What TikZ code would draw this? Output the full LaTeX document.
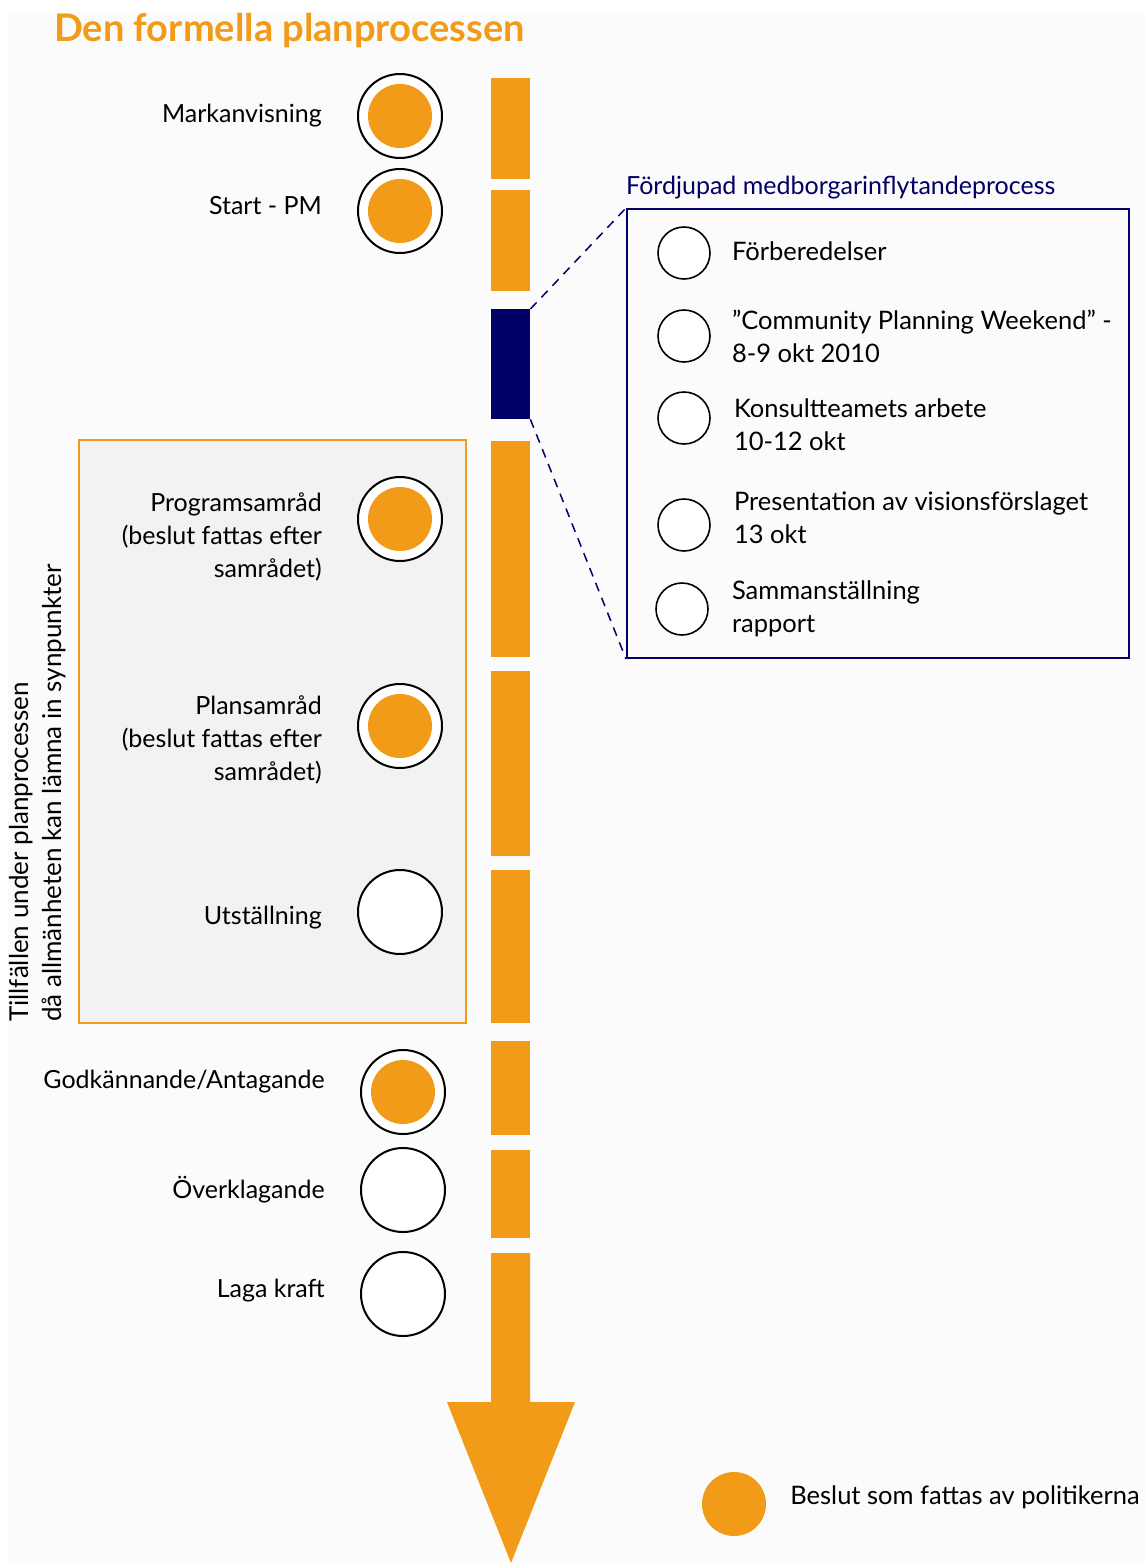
\documentclass[tikz,border=0pt]{standalone}
\usepackage{fontspec}
\setmainfont{Lato}
\usetikzlibrary{positioning}
\definecolor{planorange}{RGB}{242,155,24}
\definecolor{plannavy}{RGB}{0,0,102}
\definecolor{panelgray}{RGB}{242,242,242}
\definecolor{pagegray}{RGB}{251,251,251}

\begin{document}
\begin{tikzpicture}[x=1pt,y=-1pt,
    lbl/.style={anchor=east, align=right, inner sep=0pt, font=\fontsize{25}{33}\selectfont},
    sublbl/.style={align=left, inner sep=0pt, font=\fontsize{25.5}{33}\selectfont},
    decision/.style={circle, draw, line width=2pt, fill=white, minimum size=84pt, inner sep=0pt,
        path picture={\fill[planorange] (path picture bounding box.center) circle (32pt);}},
    openstep/.style={circle, draw, line width=2pt, fill=white, minimum size=84pt, inner sep=0pt},
    substep/.style={circle, draw, line width=1.6pt, fill=white, minimum size=52pt, inner sep=0pt},
    zoomline/.style={plannavy, line width=1.5pt, dash pattern=on 9pt off 7pt}
]
    \useasboundingbox (0,0) rectangle (1145,1563);
    \fill[white] (0,0) rectangle (1145,1563);
    \fill[pagegray] (8,12) rectangle (1145,1563);

    % title
    \node (title) [anchor=west, inner sep=0pt, text=planorange, font=\fontsize{38}{44}\selectfont\bfseries] at (54,31) {Den formella planprocessen};

    % grey panel for public consultation
    \draw[planorange, line width=2pt, fill=panelgray] (79,440) rectangle (466,1023);
    \node (public) [rotate=90, anchor=north west, align=left, inner sep=0pt, font=\fontsize{26}{33}\selectfont] at (9,1022) {Tillfällen under planprocessen\\då allmänheten kan lämna in synpunkter};

    % time bar
    \foreach \ya/\yb in {78/179, 190/291, 441/657, 671/856, 870/1023, 1041/1135, 1150/1238}
        \fill[planorange] (491,\ya) rectangle (530,\yb);
    \fill[planorange] (491,1253) -- (491,1402) -- (447,1402) -- (511,1563) -- (575,1402) -- (530,1402) -- (530,1253) -- cycle;
    \node (deep) [fill=plannavy, minimum width=39pt, minimum height=110pt, inner sep=0pt, anchor=north west] at (491,309) {};

    % steps
    \node (mark) [decision] at (400,116) {};
    \node (startpm) [decision] at (400,211) {};
    \node (prog) [decision] at (400,519) {};
    \node (plan) [decision] at (400,726) {};
    \node (utst) [openstep] at (400,912) {};
    \node (godk) [decision] at (403,1092) {};
    \node (overk) [openstep] at (403,1190) {};
    \node (laga) [openstep] at (403,1294) {};

    \node (lmark) [lbl, left=35pt of mark] {Markanvisning};
    \node (lstart) [lbl, left=35pt of startpm, yshift=5pt] {Start - PM};
    \node (lprog) [lbl, left=35pt of prog, yshift=-18pt] {Programsamråd\\(beslut fattas efter\\samrådet)};
    \node (lplan) [lbl, left=35pt of plan, yshift=-14pt] {Plansamråd\\(beslut fattas efter\\samrådet)};
    \node (lutst) [lbl, left=35pt of utst, yshift=-6pt] {Utställning};
    \node (lgodk) [lbl, left=35pt of godk, yshift=10pt] {Godkännande/Antagande};
    \node (loverk) [lbl, left=35pt of overk] {Överklagande};
    \node (llaga) [lbl, left=35pt of laga, yshift=3pt] {Laga kraft};

    % deeper citizen process
    \node (fbox) [draw=plannavy, line width=2pt, minimum width=502pt, minimum height=449pt, inner sep=0pt, anchor=north west] at (626,208) {};
    \node (ftitle) [above right=9pt and 0pt of fbox.north west, inner sep=0pt, text=plannavy, font=\fontsize{25}{30}\selectfont] {Fördjupad medborgarinflytandeprocess};
    \draw[zoomline] (deep.north east) -- (fbox.north west);
    \draw[zoomline] (deep.south east) -- (fbox.south west);

    \node (s1) [substep] at (684,253) {};
    \node (s2) [substep] at (684,336) {};
    \node (s3) [substep] at (684,418) {};
    \node (s4) [substep] at (684,525) {};
    \node (s5) [substep] at (682,609) {};
    \node (ls1) [sublbl, right=21pt of s1, yshift=2pt] {Förberedelser};
    \node (ls2) [sublbl, right=21pt of s2] {”Community Planning Weekend” -\\8-9 okt 2010};
    \node (ls3) [sublbl, right=23pt of s3, yshift=-7pt] {Konsultteamets arbete\\10-12 okt};
    \node (ls4) [sublbl, right=23pt of s4, yshift=7pt] {Presentation av visionsförslaget\\13 okt};
    \node (ls5) [sublbl, right=23pt of s5] {Sammanställning\\rapport};

    % legend
    \node (legdot) [circle, fill=planorange, minimum size=64pt, inner sep=0pt] at (734,1504) {};
    \node (legtext) [right=24pt of legdot, yshift=7pt, inner sep=0pt, font=\fontsize{25.5}{30}\selectfont] {Beslut som fattas av politikerna};
\end{tikzpicture}
\end{document}
